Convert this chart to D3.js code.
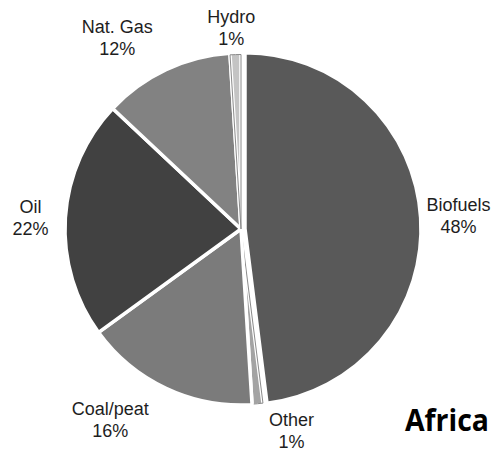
<!DOCTYPE html>
<html>
<head>
<meta charset="utf-8">
<script src="https://cdn.jsdelivr.net/npm/d3@7"></script>
<style>
  html, body { margin: 0; padding: 0; background: #fff; }
  svg { display: block; }
</style>
</head>
<body>
<svg id="chart" width="501" height="451"></svg>
<script>
// ---- data ----
const categories = ["Biofuels", "Other", "Coal/peat", "Oil", "Nat. Gas", "Hydro"];
const shares = [48, 1, 16, 22, 12, 1];
const percentLabels = ["48%", "1%", "16%", "22%", "12%", "1%"];
const title = "Africa";

// ---- styling / layout ----
const fills = ["#595959", "#a3a3a3", "#7b7b7b", "#414141", "#828282", "#c4c4c4"];
const thinOutline = [false, true, false, false, false, true];
const explode = [4, 1, 0, 0, 0, 0];
const labelNudge = [[0, -1], [30, -17], [-38, -8], [7, 1], [-31, 4], [-3, 15]];

const cx = 241, cy = 229, R = 176, labelR = 218;

const svg = d3.select("#chart");
const rows = categories.map((c, i) => ({ cat: c, value: shares[i], pct: percentLabels[i], i }));

const pie = d3.pie().value(d => d.value).sort(null).startAngle(0).endAngle(2 * Math.PI);
const arcs = pie(rows);
const arc = d3.arc().innerRadius(0).outerRadius(R);
const labelArc = d3.arc().innerRadius(labelR).outerRadius(labelR);

const g = svg.append("g").attr("transform", `translate(${cx},${cy})`);

const slices = g.selectAll("g.slice").data(arcs).join("g")
  .attr("class", "slice")
  .attr("transform", d => {
    const a = (d.startAngle + d.endAngle) / 2;
    const e = explode[d.data.i];
    return `translate(${e * Math.sin(a)},${-e * Math.cos(a)})`;
  });

slices.append("path")
  .attr("d", arc)
  .attr("fill", d => fills[d.data.i])
  .attr("stroke", "#fff")
  .attr("stroke-width", 3.5)
  .attr("stroke-linejoin", "round");

slices.filter(d => thinOutline[d.data.i]).append("path")
  .attr("d", d3.arc().innerRadius(0).outerRadius(R - 1.5))
  .attr("fill", "none")
  .attr("stroke", "#8a8a8a")
  .attr("stroke-width", 1);

const labels = g.selectAll("text.lbl").data(arcs).join("text")
  .attr("class", "lbl")
  .attr("text-anchor", "middle")
  .attr("font-family", "'Liberation Sans', Arial, sans-serif")
  .attr("font-size", 18)
  .attr("fill", "#1e1e1e")
  .attr("transform", d => {
    const [x, y] = labelArc.centroid(d);
    const n = labelNudge[d.data.i];
    return `translate(${x + n[0]},${y + n[1]})`;
  });
labels.append("tspan").attr("x", 0).attr("y", -3).text(d => d.data.cat);
labels.append("tspan").attr("x", 0).attr("y", 19).text(d => d.data.pct);

svg.append("text")
  .attr("x", 405).attr("y", 431)
  .attr("font-family", "'Open Sans', sans-serif")
  .attr("font-weight", "bold")
  .attr("font-size", 30)
  .attr("textLength", 84)
  .attr("lengthAdjust", "spacingAndGlyphs")
  .attr("fill", "#000")
  .text(title);
</script>
</body>
</html>
